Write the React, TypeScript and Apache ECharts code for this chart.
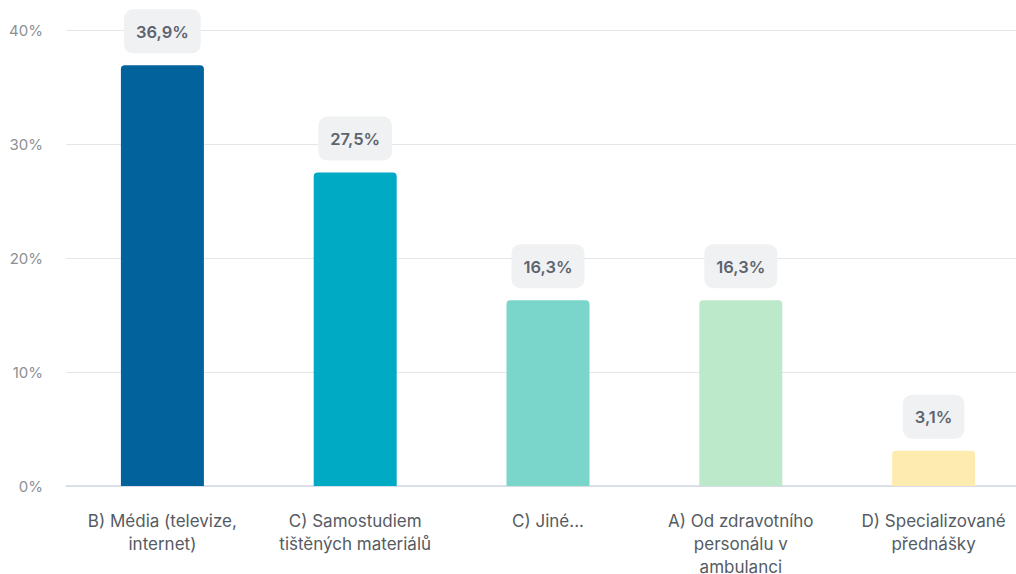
import React, { useEffect, useRef } from "react";
import * as echarts from "echarts";

const categories = [
  "B) Média (televize,\ninternet)",
  "C) Samostudiem\ntištěných materiálů",
  "C) Jiné...",
  "A) Od zdravotního\npersonálu v\nambulanci",
  "D) Specializované\npřednášky",
];
const values = [36.9, 27.5, 16.3, 16.3, 3.1];
const colors = ["#02629c", "#00aac5", "#7ad5ca", "#bce9c9", "#feebaf"];
const yTicks = [0, 10, 20, 30, 40];

export default function App() {
  const ref = useRef<HTMLDivElement>(null);
  useEffect(() => {
    if (!ref.current) return;
    const chart = echarts.init(ref.current, undefined, { renderer: "svg" });
    chart.setOption({
      animation: false,
      grid: { left: 66, right: 0, top: 30, bottom: 88, outerBoundsMode: "none", containLabel: false },
      xAxis: {
        type: "category",
        data: categories,
        axisLine: { lineStyle: { color: "#d3d9e6", width: 1.5 } },
        axisTick: { show: false },
        axisLabel: {
          color: "#555b63",
          fontSize: 17,
          fontFamily: "Inter",
          lineHeight: 23,
          margin: 23,
          interval: 0,
        },
      },
      yAxis: {
        type: "value",
        min: yTicks[0],
        max: yTicks[yTicks.length - 1],
        interval: 10,
        axisLabel: {
          formatter: "{value}%",
          color: "#8d8f93",
          fontSize: 15,
          fontFamily: "Inter",
          margin: 23,
        },
        splitLine: { lineStyle: { color: "#e6e6e6" } },
        axisLine: { show: false },
        axisTick: { show: false },
      },
      series: [
        {
          type: "bar",
          barWidth: 83,
          data: values.map((v, i) => ({ value: v, itemStyle: { color: colors[i] } })),
          itemStyle: { borderRadius: [4, 4, 0, 0] },
          label: {
            show: true,
            position: "top",
            distance: 12,
            formatter: (p: any) => String(p.value).replace(".", ",") + "%",
            color: "#5d6470",
            fontSize: 16.5,
            fontWeight: 600,
            fontFamily: "Inter",
            backgroundColor: "#f0f1f2",
            borderRadius: 9,
            padding: [14, 12, 13, 12],
          },
        },
      ],
    });
    return () => chart.dispose();
  }, []);
  return (
    <div style={{ position: "absolute", left: 0, top: 0, width: 1016, height: 574, overflow: "hidden" }}>
      <div ref={ref} style={{ width: 1030, height: 574 }} />
    </div>
  );
}
